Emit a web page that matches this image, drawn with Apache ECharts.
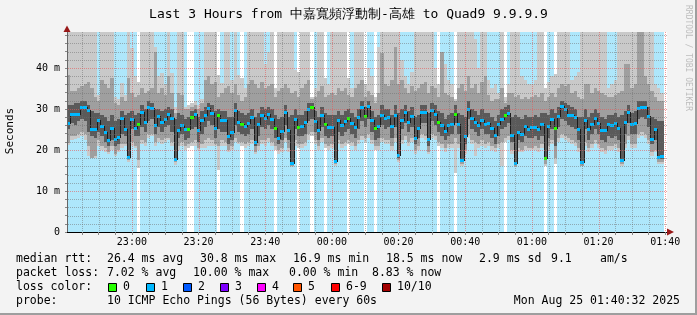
<!DOCTYPE html>
<html><head><meta charset="utf-8">
<script src="https://cdn.jsdelivr.net/npm/echarts@6/dist/echarts.min.js"></script>
<style>html,body{margin:0;padding:0;background:#f3f3f3}#c{width:697px;height:315px}</style>
</head><body><div id="c"></div>
<script>
// ---------- data ----------
const titleText = "Last 3 Hours from 中嘉寬頻浮動制-高雄 to Quad9 9.9.9.9";
const startTime = "22:40:32";           // left edge of the plot
const stepMinutes = 1;                   // one column per 60 s sample
const xTickLabels = ["23:00","23:20","23:40","00:00","00:20","00:40","01:00","01:20","01:40"];
const yTickValues = [0, 10, 20, 30, 40];
const yTickLabels = ["0", "10 m", "20 m", "30 m", "40 m"];
const yMaxMs = 48.78;

// median rtt per sample (ms)
const medianRtt = [
 26.6,28.8,28.8,28.8,30.5,30.5,29.8,25.0,25.0,27.2,
 25.9,24.3,22.4,25.4,22.6,23.2,27.7,25.0,18.3,27.5,
 25.4,26.3,29.2,26.9,30.5,30.2,26.1,28.2,26.8,27.6,
 28.7,27.8,17.9,24.9,26.0,25.0,25.0,28.1,28.7,24.9,
 27.3,28.5,30.2,29.0,25.4,28.6,27.2,27.2,23.3,24.4,
 29.7,26.8,26.4,25.9,26.7,28.0,21.9,26.3,28.6,27.8,
 28.9,27.6,25.4,22.9,24.6,29.2,24.9,16.8,27.5,25.7,
 25.9,26.8,30.0,30.5,27.0,24.9,28.5,26.3,25.6,25.7,
 17.4,27.2,26.0,27.0,27.8,26.5,25.5,28.0,30.5,28.4,
 30.8,27.3,25.3,25.8,28.6,27.9,28.0,25.9,28.5,18.9,
 27.4,29.3,26.8,28.3,23.0,25.4,29.2,29.2,22.8,29.8,
 28.8,26.8,26.2,24.6,26.0,26.4,28.9,26.3,17.6,23.3,
 30.0,27.9,26.9,26.0,27.4,26.4,26.7,25.3,23.7,26.3,
 27.6,28.6,29.1,23.7,16.8,24.4,23.9,25.8,25.2,25.5,
 25.5,25.0,26.3,18.0,25.9,27.6,25.4,28.3,30.8,30.0,
 28.5,28.5,28.0,25.2,17.0,27.2,25.1,26.3,27.8,26.7,
 24.8,24.8,26.3,26.0,26.5,25.3,17.5,26.8,29.3,26.3,
 26.6,30.2,30.5,30.5,28.2,22.8,25.2,18.4,18.5,null];

// lost pings per sample (of 10)
const lossCount = [
 1,1,1,1,1,1,1,1,1,1, 1,1,1,1,1,1,1,1,1,1, 1,0,1,1,1,1,1,1,1,1, 1,1,1,1,1,1,0,0,1,1,
 1,1,1,1,1,0,1,1,1,1, 1,1,0,1,1,1,1,1,1,1, 1,1,0,1,1,1,1,1,1,0, 1,1,1,0,1,1,1,0,1,1,
 1,1,1,1,0,1,1,1,1,0, 1,1,0,1,1,1,1,1,1,1, 1,1,1,1,1,1,1,1,1,1, 1,0,1,1,1,1,0,1,1,1,
 1,1,1,1,1,1,1,1,1,1, 1,0,1,1,1,1,1,1,1,1, 1,1,1,0,1,1,0,1,1,1, 1,1,1,1,1,1,1,1,1,1,
 1,1,1,1,1,1,1,1,1,1, 1,1,1,1,1,1,1,1,1,null];

// smoke: highest ping, upper mid, upper core, lower core, lower mid, lowest ping (ms)
const smokeMax = [
 50,50,50,50,50,50,50,50,50,33.5, 50,50,50,50,33.0,32.5,36.3,33.5,50,44.9,
 38.0,36.7,50,50,50,50,45.0,38.0,38.8,36.0, 50,38.8,30.5,50,50,30.6,31.0,31.5,32.0,31.0,
 32.5,50,50,50,50,38.4,36.3,50,50,37.0, 50,38.4,37.5,35.0,50,50,50,50,50,41.0,
 44.0,50,35.0,50,50,50,50,50,39.5,39.0, 50,50,50,33.0,35.0,50,50,37.5,36.0,50,
 50,50,50,50,37.5,35.0,50,50,50,36.0, 40.0,38.0,33.0,45.0,50,50,50,50,50,50,
 42.0,38.0,36.0,39.0,50,50,50,50,50,50, 40.0,36.0,44.0,41.0,37.0,36.0,32.5,50,50,50,
 50,50,47.0,40.0,50,50,37.0,35.0,36.0,34.0, 50,33.0,36.0,50,50,50,38.0,37.0,36.0,36.0,
 37.0,50,50,35.0,36.5,38.0,38.5,50,50,50, 50,37.0,38.0,39.0,50,50,50,50,50,50,
 50,50,35.0,36.0,37.0,50,50,50,50,50, 50,50,50,50,50,50,36.0,35.0,34.0,null];
const smokeUpperMid = [
 38.4,34.3,34.5,35.0,35.5,36.0,36.5,35.0,33.0,32.0, 37.0,36.0,35.0,37.5,31.5,31.0,33.0,32.0,37.6,34.0,
 33.0,33.5,35.0,34.0,34.5,35.0,44.0,34.0,35.0,33.5, 38.0,34.0,29.0,34.0,33.5,30.0,30.0,30.5,31.0,30.0,
 31.5,37.0,38.0,36.0,36.5,33.0,34.0,35.0,35.5,34.0, 36.0,33.5,32.0,33.0,36.0,37.0,36.0,35.0,36.5,35.0,
 35.5,36.0,33.0,34.5,35.0,36.0,35.0,34.0,34.5,33.0, 35.0,36.0,37.0,32.5,33.0,34.5,35.5,33.0,33.5,34.0,
 33.5,35.0,34.5,35.0,33.5,33.0,35.0,36.0,37.0,33.0, 34.5,33.5,31.5,34.0,43.7,36.0,35.5,37.0,45.0,36.0,
 37.0,35.0,34.0,35.5,34.5,35.0,36.0,36.5,34.0,35.5, 35.0,33.0,44.0,34.0,33.5,33.0,32.0,35.0,36.0,34.5,
 38.0,35.0,36.0,34.0,36.5,38.0,33.5,32.0,32.5,32.5, 35.0,31.5,34.0,34.0,33.0,33.5,32.5,33.0,32.5,33.0,
 33.5,33.0,34.0,32.0,33.0,34.0,33.0,35.0,36.0,35.5, 36.0,34.0,34.5,33.0,32.5,36.0,36.0,34.0,35.0,34.5,
 34.0,33.5,33.0,33.0,33.5,34.0,34.5,41.0,41.0,35.0, 36.0,50,50,38.0,36.0,34.5,33.0,32.0,32.0,null];
const smokeUpperCore = [
 31.0,31.0,31.5,31.5,32.0,32.0,31.0,29.5,29.0,29.0, 28.5,28.0,27.0,28.5,27.0,27.5,29.5,28.5,29.0,29.5,
 28.5,29.0,31.0,30.0,32.0,31.5,30.0,30.0,29.5,30.0, 30.5,30.0,27.5,29.0,28.5,27.5,28.0,29.5,30.0,28.0,
 29.5,30.5,31.5,31.0,29.5,30.0,29.5,29.5,28.0,28.0, 31.5,29.5,29.0,28.5,29.0,30.0,28.0,29.0,30.5,30.0,
 30.5,30.0,28.5,27.5,28.0,31.0,28.0,28.5,30.0,28.5, 28.5,29.5,31.5,31.5,29.5,28.0,30.5,29.0,28.5,28.5,
 28.5,29.5,28.5,29.5,30.0,29.0,28.0,30.0,32.0,30.5, 32.0,29.5,28.0,28.5,31.0,30.0,30.0,28.5,31.0,29.0,
 30.0,31.0,29.5,30.5,28.0,28.5,31.0,31.0,29.0,31.5, 31.0,29.5,29.0,27.5,28.5,29.0,31.0,29.0,28.5,28.0,
 32.0,30.0,29.5,28.5,30.0,29.0,29.0,28.0,27.0,28.5, 30.0,30.5,31.0,28.0,28.5,28.0,27.5,28.5,28.0,28.0,
 28.5,28.0,29.0,29.0,28.5,30.0,29.0,30.5,32.0,31.5, 31.0,30.5,30.0,28.0,28.0,30.0,28.0,29.0,30.0,29.0,
 28.0,27.5,28.5,28.5,29.0,28.0,28.5,29.5,31.0,29.0, 29.5,32.0,32.0,32.0,30.5,28.0,27.5,27.0,27.0,null];
const smokeLowerCore = [
 25.0,26.5,26.0,27.0,27.5,27.0,24.5,23.5,23.0,24.5, 23.5,22.0,21.0,22.5,21.0,21.5,24.0,23.5,18.0,25.0,
 23.5,23.5,25.5,24.5,27.0,27.5,24.0,25.5,24.5,25.5, 26.0,24.5,17.5,23.0,24.0,22.5,23.0,25.0,25.5,22.0,
 24.0,25.5,27.0,26.0,23.0,25.0,24.5,24.5,21.5,22.5, 26.0,24.5,24.0,23.5,24.0,25.0,21.0,23.5,25.5,25.0,
 26.0,25.0,23.0,21.5,22.5,26.0,22.5,16.5,25.0,23.5, 23.5,24.0,27.0,27.5,24.5,22.5,25.5,23.5,23.0,23.5,
 17.0,24.5,23.5,24.5,25.0,24.0,23.0,25.0,27.0,25.5, 27.5,24.5,22.5,23.0,26.0,25.0,25.5,23.0,25.5,18.0,
 25.0,26.5,24.5,25.5,21.5,23.0,26.5,26.5,21.0,27.0, 26.0,24.5,23.5,22.5,23.5,24.0,26.5,24.0,17.0,21.5,
 27.5,25.0,24.5,23.5,25.0,24.0,24.0,23.0,21.5,23.5, 25.0,25.5,26.5,22.0,16.5,22.5,22.0,23.5,23.0,23.0,
 23.5,22.5,23.5,17.5,23.0,25.0,21.0,25.5,27.5,27.0, 26.0,25.5,25.0,22.5,16.5,25.0,22.5,24.0,25.0,24.0,
 22.5,22.0,23.5,23.0,23.5,22.5,17.0,24.0,26.5,24.0, 24.0,27.5,28.0,27.5,25.5,21.5,22.5,18.0,17.8,null];
const smokeLowerMid = [
 21.7,23.5,23.5,24.0,24.5,24.0,21.0,18.0,18.5,22.5, 21.0,20.5,19.5,21.0,19.0,20.0,21.5,21.5,17.5,22.0,
 21.0,17.5,22.5,22.0,24.0,24.0,22.0,23.0,22.5,23.0, 23.0,22.0,17.0,21.0,22.0,21.0,21.5,22.0,22.5,20.5,
 21.5,22.5,23.0,22.5,21.5,21.0,22.5,22.0,20.0,21.0, 23.0,22.0,22.0,21.5,22.0,22.5,19.5,21.0,22.5,22.5,
 23.0,22.0,21.0,20.0,20.5,23.0,20.5,16.0,22.5,21.5, 21.5,22.0,24.0,24.5,22.5,21.0,23.0,21.5,21.0,21.5,
 16.5,22.5,21.5,22.0,22.5,22.0,21.0,22.5,23.5,23.0, 24.0,22.5,21.0,21.0,23.0,22.5,22.5,21.0,23.0,17.5,
 22.5,23.5,22.0,23.0,20.0,21.0,24.0,23.5,19.5,24.0, 23.5,22.0,21.5,20.5,21.5,21.5,23.0,21.5,16.5,20.0,
 24.0,22.5,22.0,21.5,22.5,21.5,22.0,21.0,20.5,21.5, 22.0,23.0,23.5,20.0,16.0,20.5,20.0,21.0,20.5,20.5,
 21.0,20.5,21.5,16.5,21.0,22.5,18.0,23.0,24.0,23.5, 23.0,22.5,22.0,20.5,16.2,22.0,20.5,21.5,22.5,21.5,
 20.5,20.0,21.0,21.0,21.5,20.5,16.5,21.5,23.5,21.5, 21.5,24.0,24.5,24.0,22.5,19.5,20.0,17.0,17.0,null];
const smokeMin = [
 21.3,22.5,22.8,23.0,23.5,22.5,18.5,18.0,18.0,21.0, 20.0,19.5,19.0,20.0,18.5,19.5,20.5,21.0,17.0,21.0,
 20.5,15.6,21.5,21.0,23.0,23.5,21.0,22.0,21.5,22.0, 22.5,21.0,16.4,20.0,21.0,20.0,20.5,21.0,21.0,20.0,
 20.5,20.5,21.0,21.0,21.0,15.2,21.0,21.0,19.5,20.0, 22.0,21.5,21.0,20.5,21.0,21.5,19.0,20.0,21.5,21.0,
 22.0,21.0,20.0,19.0,19.5,22.0,19.5,15.8,21.0,20.5, 20.5,21.0,22.5,23.5,21.5,20.0,22.0,20.5,20.0,20.5,
 16.2,21.5,20.5,21.0,21.5,21.0,20.0,21.5,22.5,22.0, 23.0,21.5,20.0,20.0,22.0,21.5,21.5,20.0,22.0,17.0,
 21.5,22.5,21.0,22.0,19.0,20.0,23.0,22.5,19.0,23.0, 22.5,21.0,20.5,19.5,20.5,20.5,14.5,20.5,16.0,19.0,
 23.0,21.5,18.5,20.5,21.0,20.5,21.0,20.0,19.5,20.5, 16.0,22.0,22.5,19.0,15.8,19.5,19.5,20.0,20.0,20.0,
 20.0,19.5,20.5,16.0,20.0,21.5,16.5,22.0,23.0,22.5, 22.0,21.5,21.0,19.5,16.0,21.0,19.5,20.5,21.5,20.5,
 19.5,19.0,20.0,20.0,20.5,19.5,16.2,20.5,22.5,20.5, 20.5,23.0,23.5,23.0,21.5,18.5,19.5,16.5,16.5,null];

// legend texts
const legendRows = [
  {y: 259, parts: [[16,"median rtt:"],[107,"26.4 ms avg"],[200,"30.8 ms max"],[293,"16.9 ms min"],[386,"18.5 ms now"],[479,"2.9 ms sd"],[551,"9.1"],[600,"am/s"]]},
  {y: 273, parts: [[16,"packet loss:"],[107,"7.02 % avg"],[193,"10.00 % max"],[289,"0.00 % min"],[372,"8.83 % now"]]},
  {y: 287, parts: [[16,"loss color:"]]},
  {y: 301, parts: [[16,"probe:"],[107,"10 ICMP Echo Pings (56 Bytes) every 60s"]]}
];
const lossLegendLabels = ["0","1","2","3","4","5","6-9","10/10"];
const lossLegendColors = ["#26ff00","#00b8ff","#0059ff","#7e00ff","#ff00ff","#ff5500","#ff0000","#a10000"];
const lossLegendX = [108, 146, 183, 220, 257, 293, 331, 382];
const dateText = "Mon Aug 25 01:40:32 2025";
const watermark = "RRDTOOL / TOBI OETIKER";

// ---------- helpers ----------
function toMin(s){ const p = s.split(':').map(Number); let m = p[0]*60 + p[1] + (p[2]||0)/60; if (m > 720) m -= 1440; return m; }
const t0 = toMin(startTime);
const nCols = medianRtt.length;
const tEnd = t0 + nCols*stepMinutes;
const xLabelVals = xTickLabels.map(toMin);
const xLabelMap = {}; xTickLabels.forEach((l,i)=>{ xLabelMap[xLabelVals[i].toFixed(3)] = l; });
const xMinorVals = []; for (let v = Math.ceil(t0/5)*5; v <= tEnd; v += 5) xMinorVals.push(v);
const yMinorVals = []; for (let v = 0; v <= yMaxMs; v += 2) yMinorVals.push(v);

const MONO = '"DejaVu Sans Mono", monospace';
const BG_LOSS1 = '#aee7fb';
const C_LIGHT = '#c9c9c9', C_MID = '#9f9f9f', C_CORE = '#5a5a5a';
const GRID_MINOR = 'rgba(110,110,110,0.5)', GRID_MAJOR = 'rgba(230,90,90,0.6)';
const markerColor = l => lossLegendColors[Math.min(l, 7)];

const smokeData = [], markerData = [];
for (let i = 0; i < nCols; i++) {
  if (lossCount[i] == null) continue;
  const t = t0 + i*stepMinutes;
  smokeData.push([t, smokeMax[i], smokeUpperMid[i], smokeUpperCore[i], smokeLowerCore[i], smokeLowerMid[i], smokeMin[i], lossCount[i]]);
  markerData.push([t, medianRtt[i], i > 0 ? medianRtt[i-1] : null, lossCount[i]]);
}

const chart = echarts.init(document.getElementById('c'), null, {renderer: 'canvas', width: 697, height: 315});

function colRange(api, t){
  const xa = Math.round(api.coord([t, 0])[0]);
  const xb = Math.round(api.coord([t + stepMinutes, 0])[0]);
  return [xa, xb];
}
function yPix(api, t, v){ return Math.round(api.coord([t, Math.max(0, Math.min(v, yMaxMs))])[1]); }

const option = {
  animation: false,
  backgroundColor: '#f3f3f3',
  grid: {left: 67, top: 32, width: 600, height: 200, show: true, backgroundColor: '#ffffff', borderWidth: 0},
  xAxis: {
    type: 'value', min: t0, max: tEnd, z: 6,
    axisLine: {show: true, onZero: false, lineStyle: {color: '#000', width: 1}},
    axisTick: {show: true, customValues: xMinorVals, length: 3, lineStyle: {color: '#888'}},
    axisLabel: {show: true, customValues: xLabelVals, margin: 5, color: '#000', fontFamily: MONO, fontSize: 10,
      formatter: v => xLabelMap[Number(v).toFixed(3)] || ''},
    splitLine: {show: false}
  },
  yAxis: {
    type: 'value', min: 0, max: yMaxMs, z: 6,
    axisLine: {show: true, onZero: false, lineStyle: {color: '#666', width: 1}},
    axisTick: {show: true, customValues: yMinorVals, length: 2, lineStyle: {color: '#888'}},
    axisLabel: {show: true, customValues: yTickValues, margin: 7, color: '#000', fontFamily: MONO, fontSize: 10,
      formatter: v => { const k = yTickValues.indexOf(Math.round(v)); return k >= 0 ? yTickLabels[k] : ''; }},
    splitLine: {show: false}
  },
  series: [
    { type: 'custom', name: 'smoke', z: 1, data: smokeData, silent: true,
      renderItem: (params, api) => {
        const t = api.value(0);
        const [xa, xb] = colRange(api, t);
        const w = xb - xa;
        const loss = api.value(7);
        const kids = [];
        const yT = yPix(api, t, yMaxMs), yB = yPix(api, t, 0);
        kids.push({type: 'rect', shape: {x: xa, y: yT, width: w, height: yB - yT}, style: {fill: loss > 0 ? BG_LOSS1 : '#ffffff'}});
        const band = (lo, hi, col) => {
          const y1 = yPix(api, t, hi), y2 = yPix(api, t, lo);
          if (y2 > y1) kids.push({type: 'rect', shape: {x: xa, y: y1, width: w, height: y2 - y1}, style: {fill: col}});
        };
        band(api.value(6), api.value(1), C_LIGHT);
        band(api.value(5), api.value(2), C_MID);
        band(api.value(4), api.value(3), C_CORE);
        return {type: 'group', children: kids};
      }
    },
    { type: 'custom', name: 'median', z: 3, data: markerData, silent: true,
      renderItem: (params, api) => {
        const t = api.value(0);
        const [xa, xb] = colRange(api, t);
        const med = api.value(1), prev = api.value(2), loss = api.value(3);
        const ym = yPix(api, t, med);
        const kids = [];
        if (prev != null && !isNaN(prev)) {
          const yp = yPix(api, t, prev);
          kids.push({type: 'rect', shape: {x: xa, y: Math.min(yp, ym), width: 1, height: Math.abs(yp - ym) + 1}, style: {fill: '#1c1c1c'}});
        }
        kids.push({type: 'rect', shape: {x: xa, y: ym - 1, width: xb - xa, height: 3}, style: {fill: markerColor(loss)}});
        return {type: 'group', children: kids};
      }
    },
    { type: 'custom', name: 'grid', z: 4, data: [[t0, 0]], silent: true,
      renderItem: (params, api) => {
        const kids = [];
        const xL = Math.round(api.coord([t0, 0])[0]), xR = Math.round(api.coord([tEnd, 0])[0]);
        const yT = Math.round(api.coord([t0, yMaxMs])[1]), yB = Math.round(api.coord([t0, 0])[1]);
        xMinorVals.forEach(v => {
          const x = Math.round(api.coord([v, 0])[0]);
          const major = Math.abs(v % 20) < 1e-6;
          for (let y = yT; y < yB; y += 2)
            kids.push({type: 'rect', shape: {x: x, y: y, width: 1, height: 1}, style: {fill: major ? GRID_MAJOR : GRID_MINOR}});
        });
        yMinorVals.forEach(v => {
          if (v <= 0) return;
          const y = Math.round(api.coord([t0, v])[1]);
          const major = v % 10 === 0;
          for (let x = xL + 1; x < xR; x += 2)
            kids.push({type: 'rect', shape: {x: x, y: y, width: 1, height: 1}, style: {fill: major ? GRID_MAJOR : GRID_MINOR}});
        });
        return {type: 'group', children: kids};
      }
    }
  ],
  graphic: []
};

const g = option.graphic;
const txt = (x, y, s, extra) => Object.assign({type: 'text', x: x, y: y, silent: true, z: 10,
  style: Object.assign({text: s, font: '11.5px ' + MONO, fill: '#000', align: 'left', verticalAlign: 'middle'}, extra || {})});
g.push(txt(348.5, 15, titleText, {font: '13px ' + MONO, align: 'center'}));
g.push(Object.assign(txt(10, 131, 'Seconds', {font: '11px ' + MONO, align: 'center'}), {rotation: Math.PI / 2}));
g.push(Object.assign(txt(688, 5, watermark, {font: '8px ' + MONO, fill: '#bdbdbd', align: 'left'}), {rotation: -Math.PI / 2}));
legendRows.forEach(r => r.parts.forEach(p => g.push(txt(p[0], r.y, p[1]))));
lossLegendLabels.forEach((l, i) => {
  const bx = lossLegendX[i];
  g.push({type: 'rect', silent: true, z: 10, shape: {x: bx + 0.5, y: 283.5, width: 8, height: 8}, style: {fill: lossLegendColors[i], stroke: '#000', lineWidth: 1}});
  g.push(txt(bx + 15, 287, l));
});
g.push(txt(680, 301, dateText, {align: 'right'}));
// axis arrows and frame
g.push({type: 'polygon', silent: true, z: 10, shape: {points: [[63.5, 32], [70.5, 32], [67, 25.5]]}, style: {fill: '#981818'}});
g.push({type: 'polygon', silent: true, z: 10, shape: {points: [[667, 228.5], [667, 235.5], [674, 232]]}, style: {fill: '#981818'}});
g.push({type: 'rect', silent: true, z: 10, shape: {x: 695, y: 0, width: 2, height: 315}, style: {fill: '#9e9e9e'}});
g.push({type: 'rect', silent: true, z: 10, shape: {x: 0, y: 313, width: 697, height: 2}, style: {fill: '#9e9e9e'}});

chart.setOption(option);
</script></body></html>
